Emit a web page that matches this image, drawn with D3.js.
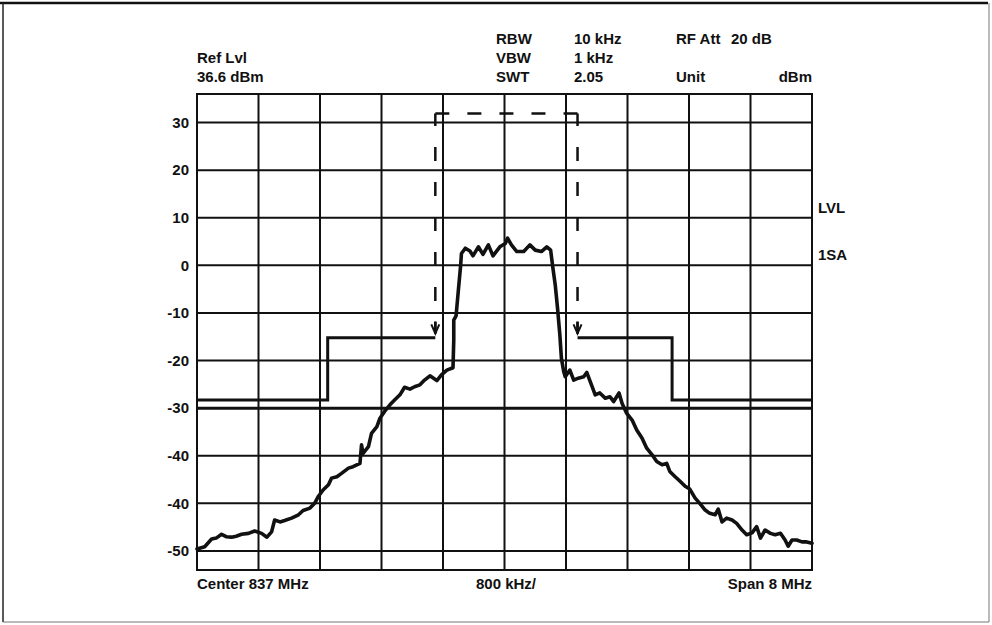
<!DOCTYPE html>
<html>
<head>
<meta charset="utf-8">
<script src="https://cdn.jsdelivr.net/npm/d3@7"></script>
<style>
  html, body { margin: 0; padding: 0; background: #fff; }
  svg { display: block; }
  text { font-family: "Liberation Sans", Arial, Helvetica, sans-serif; font-weight: bold; fill: #111; }
</style>
</head>
<body>
<svg id="chart" width="992" height="625"></svg>
<script>
// Spectrum analyzer trace: frequency offset from 837 MHz centre (MHz) and level (dBm)
const traceFreq = [
  -4.00, -3.90, -3.81, -3.75, -3.68, -3.62, -3.55, -3.49, -3.42, -3.33,
  -3.25, -3.16, -3.09, -3.03, -2.99, -2.92, -2.86, -2.77, -2.68, -2.62,
  -2.53, -2.47, -2.42, -2.36, -2.29, -2.25, -2.18, -2.12, -2.03, -1.97,
  -1.88, -1.86, -1.84, -1.77, -1.73, -1.66, -1.62, -1.56, -1.49, -1.43,
  -1.36, -1.30, -1.23, -1.17, -1.10, -1.04, -0.97, -0.88, -0.82, -0.75,
  -0.67, -0.66, -0.66, -0.63, -0.60, -0.57, -0.56, -0.51, -0.45, -0.41,
  -0.34, -0.28, -0.21, -0.15, -0.06, 0.01, 0.04, 0.09, 0.16, 0.25,
  0.33, 0.40, 0.48, 0.55, 0.60, 0.63, 0.66, 0.69, 0.72, 0.74,
  0.77, 0.79, 0.85, 0.90, 0.96, 1.03, 1.07, 1.14, 1.18, 1.24,
  1.31, 1.37, 1.42, 1.49, 1.53, 1.59, 1.66, 1.72, 1.79, 1.85,
  1.92, 1.98, 2.05, 2.11, 2.15, 2.22, 2.28, 2.35, 2.41, 2.48,
  2.54, 2.61, 2.67, 2.74, 2.78, 2.83, 2.89, 2.96, 3.02, 3.09,
  3.15, 3.22, 3.28, 3.33, 3.39, 3.46, 3.52, 3.59, 3.65, 3.69,
  3.74, 3.80, 3.87, 3.93, 4.00
];
const traceLevel = [
  -59.6, -59.1, -57.5, -57.3, -56.5, -57.0, -57.1, -56.9, -56.5, -56.3,
  -55.8, -56.3, -57.1, -56.0, -53.5, -53.9, -53.6, -53.1, -52.4, -51.5,
  -51.0, -50.0, -48.5, -47.2, -46.1, -44.7, -44.4, -43.7, -42.6, -42.3,
  -41.6, -37.7, -39.5, -38.1, -35.3, -33.9, -32.1, -30.7, -29.3, -28.3,
  -27.2, -25.6, -26.0, -25.5, -25.1, -24.1, -23.2, -24.2, -23.0, -22.0,
  -21.5, -15.7, -11.5, -10.6, -5.2, 0.1, 2.5, 3.6, 3.0, 2.0,
  3.9, 2.3, 4.3, 2.0, 3.9, 4.6, 5.7, 4.3, 2.9, 2.9,
  4.3, 3.2, 2.9, 3.9, 3.2, -0.6, -4.1, -9.0, -14.6, -19.5,
  -22.3, -23.4, -22.0, -24.1, -23.7, -23.4, -22.5, -25.5, -27.2, -26.8,
  -27.9, -27.6, -28.6, -26.8, -29.0, -31.1, -32.5, -34.6, -36.3, -38.4,
  -39.8, -41.2, -41.9, -41.6, -43.3, -44.4, -45.3, -46.4, -47.0, -48.9,
  -50.0, -51.4, -52.1, -52.4, -51.2, -53.9, -53.1, -53.5, -54.2, -55.6,
  -56.6, -56.2, -54.9, -57.3, -55.6, -56.3, -56.6, -56.3, -57.7, -59.0,
  -57.7, -57.7, -58.1, -58.1, -58.4
];

// Emission mask: solid limit steps outside the channel, dashed in-band window
const maskLeftFreq = [-4.00, -2.30, -2.30, -0.90];
const maskLeftLevel = [-28.3, -28.3, -15.2, -15.2];
const maskRightFreq = [0.95, 2.18, 2.18, 4.00];
const maskRightLevel = [-15.2, -15.2, -28.3, -28.3];
const windowEdgeFreq = [-0.90, 0.95];
const windowTopLevel = 31.9;
const windowFootLevel = -14.3;

// Grid and tick labels
const xGridMHz = [-4, -3.2, -2.4, -1.6, -0.8, 0, 0.8, 1.6, 2.4, 3.2, 4];
const yTickValues = [30, 20, 10, 0, -10, -20, -30, -40, -50, -60];
const yTickLabels = ["30", "20", "10", "0", "-10", "-20", "-30", "-40", "-40", "-50"];

// Instrument settings printed above the screen
const headerRows = [
  { col: "RBW", val: "10 kHz", key: "RF Att", keyVal: "20 dB" },
  { col: "VBW", val: "1 kHz", key: "", keyVal: "" },
  { col: "SWT", val: "2.05", key: "Unit", keyVal: "dBm" }
];
const refLabels = ["Ref Lvl", "36.6 dBm"];
const sideLabels = [{ text: "LVL", level: 11.8 }, { text: "1SA", level: 1.9 }];
const footLabels = ["Center 837 MHz", "800 kHz/", "Span 8 MHz"];

const svg = d3.select("#chart");
const plot = { left: 197, right: 812, top: 94, bottom: 570 };

const x = d3.scaleLinear().domain([-4, 4]).range([plot.left, plot.right]);
const y = d3.scaleLinear().domain([-64, 36]).range([plot.bottom, plot.top]);

// Page border
svg.append("line").attr("x1", 0).attr("x2", 988).attr("y1", 3).attr("y2", 3)
  .attr("stroke", "#111").attr("stroke-width", 2.5);
svg.append("line").attr("x1", 3).attr("x2", 3).attr("y1", 3).attr("y2", 622)
  .attr("stroke", "#222").attr("stroke-width", 1.5);
svg.append("line").attr("x1", 989).attr("x2", 989).attr("y1", 3).attr("y2", 622)
  .attr("stroke", "#777").attr("stroke-width", 1);
svg.append("line").attr("x1", 3).attr("x2", 989).attr("y1", 622).attr("y2", 622)
  .attr("stroke", "#777").attr("stroke-width", 1);

// Graticule
const grid = svg.append("g");
grid.selectAll("line.v").data(xGridMHz).join("line")
  .attr("class", "v")
  .attr("x1", d => x(d)).attr("x2", d => x(d))
  .attr("y1", plot.top).attr("y2", plot.bottom)
  .attr("stroke", "#111").attr("stroke-width", 2);
grid.selectAll("line.h").data(yTickValues).join("line")
  .attr("class", "h")
  .attr("x1", plot.left).attr("x2", plot.right)
  .attr("y1", d => y(d)).attr("y2", d => y(d))
  .attr("stroke", "#111").attr("stroke-width", d => d === -30 ? 3 : 2);
grid.append("rect")
  .attr("x", plot.left).attr("y", plot.top)
  .attr("width", plot.right - plot.left).attr("height", plot.bottom - plot.top)
  .attr("fill", "none").attr("stroke", "#111").attr("stroke-width", 2);

// Y tick labels via a left axis with printed labels
const yAxis = d3.axisLeft(y).tickValues(yTickValues).tickSize(0).tickPadding(8)
  .tickFormat((d, i) => yTickLabels[i]);
svg.append("g").attr("transform", `translate(${plot.left},0)`).call(yAxis)
  .call(g => g.select(".domain").remove())
  .call(g => g.selectAll("text")
    .attr("font-family", "'Liberation Sans', Arial, sans-serif")
    .attr("font-weight", "bold").attr("font-size", 15).attr("fill", "#111"));

const lineGen = d3.line().x(d => x(d[0])).y(d => y(d[1]));

// Mask
const maskG = svg.append("g").attr("fill", "none").attr("stroke", "#111");
maskG.append("path").datum(d3.zip(maskLeftFreq, maskLeftLevel))
  .attr("d", lineGen).attr("stroke-width", 3).attr("stroke-linejoin", "miter");
maskG.append("path").datum(d3.zip(maskRightFreq, maskRightLevel))
  .attr("d", lineGen).attr("stroke-width", 3).attr("stroke-linejoin", "miter");

// Dashed window: each edge starts with a dash at the top corner
windowEdgeFreq.forEach(f => {
  maskG.append("path")
    .datum([[f, windowTopLevel], [f, windowFootLevel]])
    .attr("d", lineGen).attr("stroke-width", 2.5).attr("stroke-dasharray", "14,21")
    .attr("stroke-dashoffset", 1.5);
});
const topLen = x(windowEdgeFreq[1]) - x(windowEdgeFreq[0]);
const dashLen = 14, dashCount = 5;
maskG.append("path")
  .datum(windowEdgeFreq.map(f => [f, windowTopLevel]))
  .attr("d", lineGen).attr("stroke-width", 2.5)
  .attr("stroke-dasharray", `${dashLen},${(topLen - dashLen * dashCount) / (dashCount - 1)}`);

// Arrowheads at the foot of the dashed window edges
windowEdgeFreq.forEach(f => {
  const ax = x(f), ay = y(windowFootLevel);
  maskG.append("path")
    .attr("d", `M${ax - 4},${ay - 9}L${ax},${ay}L${ax + 4},${ay - 9}`)
    .attr("stroke-width", 2);
  maskG.append("line").attr("x1", ax).attr("x2", ax).attr("y1", ay - 12).attr("y2", ay)
    .attr("stroke-width", 2.5);
});

// Trace
svg.append("path").datum(d3.zip(traceFreq, traceLevel))
  .attr("d", lineGen)
  .attr("fill", "none").attr("stroke", "#111").attr("stroke-width", 3.6)
  .attr("stroke-linejoin", "round").attr("stroke-linecap", "round");

// Header texts
const fs = 15;
const rowY = [44, 63, 82];
const head = svg.append("g").attr("font-size", fs);
headerRows.forEach((r, i) => {
  head.append("text").attr("x", 496).attr("y", rowY[i]).text(r.col);
  head.append("text").attr("x", 574).attr("y", rowY[i]).text(r.val);
  if (r.key) head.append("text").attr("x", 676).attr("y", rowY[i]).text(r.key);
  if (r.keyVal) {
    const t = head.append("text").attr("y", rowY[i]).text(r.keyVal);
    if (i === 0) t.attr("x", 731); else t.attr("x", plot.right).attr("text-anchor", "end");
  }
});
head.append("text").attr("x", plot.left).attr("y", rowY[1]).text(refLabels[0]);
head.append("text").attr("x", plot.left).attr("y", rowY[2]).text(refLabels[1]);

// Side labels
svg.append("g").attr("font-size", fs).selectAll("text").data(sideLabels).join("text")
  .attr("x", 818).attr("y", d => y(d.level)).attr("dominant-baseline", "middle")
  .text(d => d.text);

// Footer
const foot = svg.append("g").attr("font-size", fs);
foot.append("text").attr("x", plot.left).attr("y", 589).text(footLabels[0]);
foot.append("text").attr("x", 476).attr("y", 589).text(footLabels[1]);
foot.append("text").attr("x", plot.right).attr("y", 589).attr("text-anchor", "end").text(footLabels[2]);
</script>
</body>
</html>
